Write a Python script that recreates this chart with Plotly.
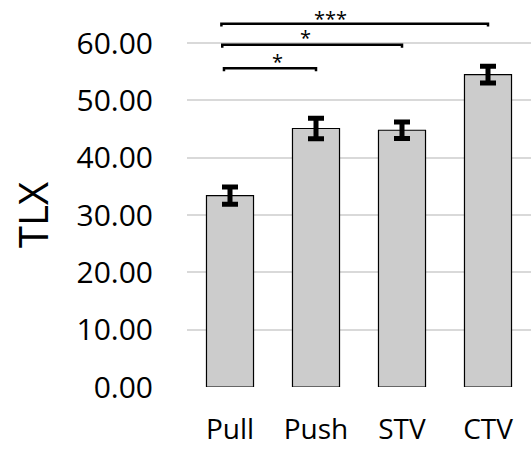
import plotly.graph_objects as go

categories = ["Pull", "Push", "STV", "CTV"]
means = [33.4, 45.1, 44.8, 54.5]
errors = [1.5, 1.8, 1.45, 1.45]
y_ticks = [0, 10, 20, 30, 40, 50, 60]

# significance brackets
sig_left = [-0.07, -0.09, -0.10]
sig_right = [1.0, 2.0, 3.0]
sig_height = [55.6, 59.7, 63.4]
sig_labels = ["*", "*", "***"]
sig_label_x = [0.55, 0.875, 1.17]
sig_label_y = [56.8, 61.0, 64.35]

x = list(range(len(categories)))
FONT = "Open Sans"

fig = go.Figure()
fig.add_trace(go.Bar(
    x=x, y=means, width=0.547,
    marker=dict(color="#cccccc", line=dict(color="#000000", width=1.2)),
    error_y=dict(type="data", array=errors, visible=True,
                 color="#000000", thickness=5, width=8),
))

for l, r, h, lab, lx, ly in zip(sig_left, sig_right, sig_height, sig_labels, sig_label_x, sig_label_y):
    fig.add_shape(type="path",
                  path=f"M {l},{h-0.5} L {l},{h} L {r},{h} L {r},{h-0.5}",
                  xref="x", yref="y", line=dict(color="#000000", width=2.5))
    fig.add_annotation(x=lx, y=ly, text=lab, showarrow=False, xref="x", yref="y",
                       font=dict(family=FONT, size=20, color="#000000"),
                       yanchor="middle", borderpad=0)

fig.add_annotation(x=(32.7 - 187) / 344, y=(386.7 - 215) / 384,
                   xref="paper", yref="paper", text="TLX",
                   showarrow=False, textangle=-90, xanchor="center", yanchor="middle",
                   font=dict(family=FONT, size=40, color="#000000"))

fig.update_layout(
    width=532, height=449,
    margin=dict(l=187, r=1, t=3, b=62),
    paper_bgcolor="white", plot_bgcolor="white",
    showlegend=False,
    font=dict(family=FONT, color="#000000"),
    xaxis=dict(range=[-0.5, 3.5], tickvals=x, ticktext=categories,
               showgrid=False, zeroline=False, showline=False, automargin=False,
               tickfont=dict(family=FONT, size=28, color="#000000"),
               ticklabelstandoff=23),
    yaxis=dict(range=[0, 67], tickvals=y_ticks,
               ticktext=[f"{v:.2f}" for v in y_ticks],
               showgrid=True, gridcolor="#d9d9d9", gridwidth=1.5,
               zeroline=False, showline=False, automargin=False,
               tickfont=dict(family=FONT, size=30, color="#000000"),
               ticklabelstandoff=33),
)

fig.write_html("out.html")
